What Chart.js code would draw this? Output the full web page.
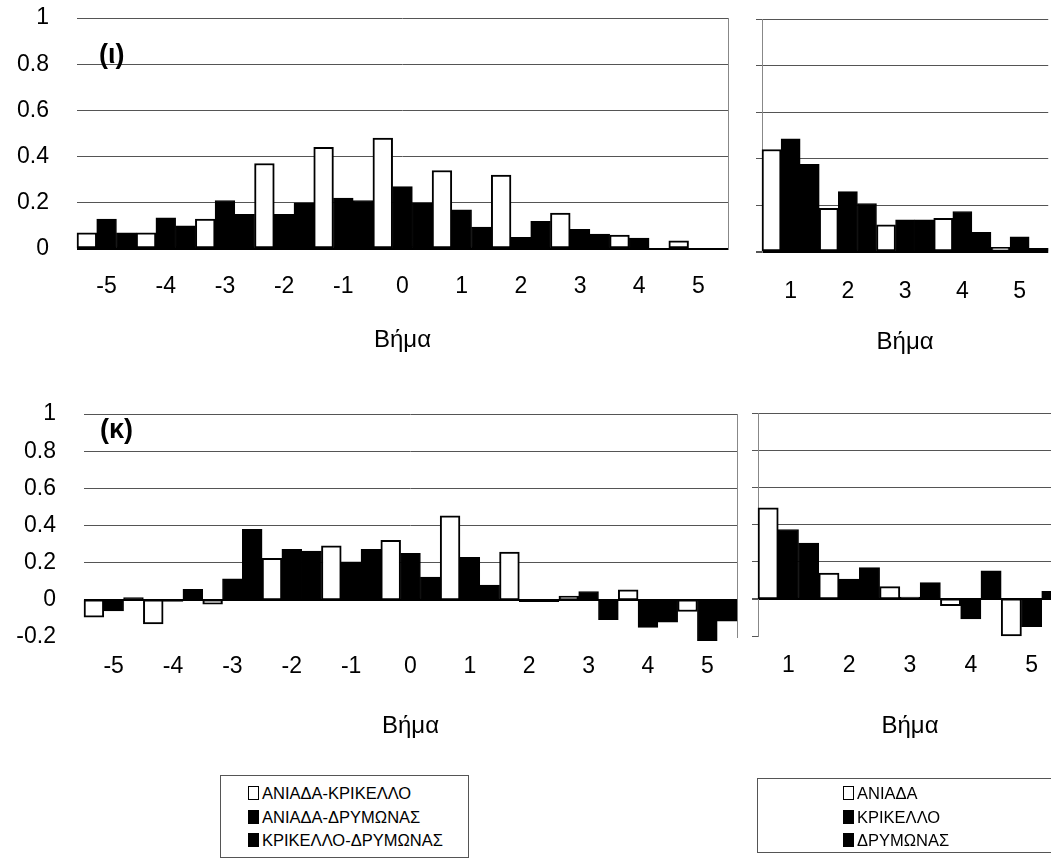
<!DOCTYPE html>
<html>
<head>
<meta charset="utf-8">
<script src="https://cdn.jsdelivr.net/npm/chart.js@4/dist/chart.umd.min.js"></script>
<style>
  html, body { margin: 0; padding: 0; background: #fff; overflow: hidden; }
  body { width: 1051px; height: 863px; position: relative; font-family: Arial, "Liberation Sans", sans-serif; }
  canvas { position: absolute; }
  .tag { position: absolute; font-weight: bold; font-size: 27px; color: #000; }
  .legend { position: absolute; border: 1px solid #555; box-sizing: border-box; font-size: 16.5px; color: #000; }
  .legend div { position: absolute; white-space: nowrap; line-height: 18px; }
  .legend span { display: inline-block; width: 9px; height: 12px; border: 1px solid #000; margin-right: 3px; vertical-align: -1px; }
</style>
</head>
<body>
<canvas id="c1" width="745" height="360" style="left:0;top:0"></canvas>
<canvas id="c2" width="312" height="360" style="left:740px;top:0"></canvas>
<canvas id="c3" width="745" height="370" style="left:0;top:380px"></canvas>
<canvas id="c4" width="322" height="370" style="left:740px;top:380px"></canvas>

<div class="tag" style="left:99px;top:39px">(ι)</div>
<div class="tag" style="left:100px;top:414px">(κ)</div>

<div class="legend" style="left:220px;top:775px;width:249px;height:83px">
  <div style="left:27px;top:8px"><span style="background:#fff"></span>ΑΝΙΑΔΑ-ΚΡΙΚΕΛΛΟ</div>
  <div style="left:27px;top:32px"><span style="background:#000"></span>ΑΝΙΑΔΑ-ΔΡΥΜΩΝΑΣ</div>
  <div style="left:27px;top:55px"><span style="background:#000"></span>ΚΡΙΚΕΛΛΟ-ΔΡΥΜΩΝΑΣ</div>
</div>
<div class="legend" style="left:757px;top:778px;width:300px;height:75px">
  <div style="left:85px;top:5px"><span style="background:#fff"></span>ΑΝΙΑΔΑ</div>
  <div style="left:85px;top:29px"><span style="background:#000"></span>ΚΡΙΚΕΛΛΟ</div>
  <div style="left:85px;top:52px"><span style="background:#000"></span>ΔΡΥΜΩΝΑΣ</div>
</div>

<script>
// lags
const crossLags = ['-5', '-4', '-3', '-2', '-1', '0', '1', '2', '3', '4', '5'];
const autoLags = ['1', '2', '3', '4', '5'];

// (ι) cross-correlation
const iotaAniadaKrikello = [0.07, 0.07, 0.13, 0.37, 0.44, 0.48, 0.34, 0.32, 0.155, 0.06, 0.035];
const iotaAniadaDrymonas = [0.13, 0.135, 0.21, 0.15, 0.22, 0.27, 0.17, 0.05, 0.085, 0.047, 0];
const iotaKrikelloDrymonas = [0.07, 0.10, 0.15, 0.20, 0.21, 0.20, 0.095, 0.12, 0.065, 0, 0];

// (ι) autocorrelation
const iotaAniada = [0.44, 0.187, 0.117, 0.145, 0.02];
const iotaKrikello = [0.486, 0.259, 0.138, 0.174, 0.065];
const iotaDrymonas = [0.376, 0.208, 0.138, 0.084, 0.016];

// (κ) cross-correlation
const kappaAniadaKrikello = [-0.093, -0.13, -0.023, 0.224, 0.291, 0.32, 0.452, 0.257, 0.02, 0.054, -0.063];
const kappaAniadaDrymonas = [-0.059, -0.009, 0.113, 0.272, 0.204, 0.25, 0.229, -0.01, 0.045, -0.148, -0.22];
const kappaKrikelloDrymonas = [0.012, 0.057, 0.379, 0.263, 0.272, 0.122, 0.079, -0.01, -0.107, -0.12, -0.115];

// (κ) autocorrelation
const kappaAniada = [0.49, 0.139, 0.066, -0.037, -0.20];
const kappaKrikello = [0.373, 0.106, 0.01, -0.108, -0.15];
const kappaDrymonas = [0.30, 0.168, 0.087, 0.151, 0.04];

Chart.defaults.font.family = 'Arial, "Liberation Sans", sans-serif';
Chart.defaults.font.size = 23;
Chart.defaults.color = '#000';

// dotted frame edge of a panel (right side for left panels, left side for right panels)
function edgeAxis(side, min) {
    return {
        position: side,
        weight: -1,
        min: min,
        max: 1,
        ticks: { display: false },
        grid: { display: false, drawTicks: false },
        border: { display: true, dash: [2, 4], color: '#888' },
        afterFit: (s) => { s.width = 0; },
    };
}

function drawPanel(id, labels, series, names, box) {
    const datasets = series.map((values, i) => ({
        label: names[i],
        data: values,
        backgroundColor: i === 0 ? '#fff' : '#000',
        borderColor: '#000',
        borderWidth: i === 0 ? 2 : 1,
        borderSkipped: false,
        categoryPercentage: 1,
        barPercentage: 1,
        clip: false,
    }));

    const scales = {
        x: {
            grid: { display: false, drawTicks: false },
            border: { display: false },
            ticks: { padding: box.labelPad, maxRotation: 0, autoSkip: false },
            title: { display: true, text: 'Βήμα', font: { size: 24 }, padding: { top: 0, bottom: box.titlePad } },
            afterFit: (s) => { s.height = box.xHeight; },
        },
        y: {
            min: box.min,
            max: 1,
            ticks: {
                stepSize: 0.2,
                display: box.showLabels,
                padding: 0,
                callback: (v) => String(Math.round(v * 10) / 10),
            },
            grid: {
                drawTicks: true,
                tickLength: box.tickLen,
                tickColor: box.showLabels ? 'rgba(0,0,0,0)' : '#555',
                color: (c) => {
                    const v = Math.round(c.tick.value * 10);
                    if (v === 0) return '#000';
                    if (v < 0) return 'rgba(0,0,0,0)';
                    return '#555';
                },
                lineWidth: (c) => (Math.round(c.tick.value * 10) === 0 ? 2 : 1),
            },
            border: { display: false },
            afterFit: (s) => { s.width = box.yWidth; },
        },
        edge: edgeAxis(box.showLabels ? 'right' : 'left', box.min),
    };

    new Chart(document.getElementById(id), {
        type: 'bar',
        data: { labels, datasets },
        options: {
            responsive: false,
            animation: false,
            layout: { padding: { top: box.top, right: box.right, left: 0, bottom: 0 } },
            plugins: { legend: { display: false }, tooltip: { enabled: false } },
            scales,
        },
    });
}

const crossNames = ['ΑΝΙΑΔΑ-ΚΡΙΚΕΛΛΟ', 'ΑΝΙΑΔΑ-ΔΡΥΜΩΝΑΣ', 'ΚΡΙΚΕΛΛΟ-ΔΡΥΜΩΝΑΣ'];
const siteNames = ['ΑΝΙΑΔΑ', 'ΚΡΙΚΕΛΛΟ', 'ΔΡΥΜΩΝΑΣ'];

drawPanel('c1', crossLags, [iotaAniadaKrikello, iotaAniadaDrymonas, iotaKrikelloDrymonas], crossNames,
    { min: 0, top: 18, right: 17, yWidth: 77, xHeight: 111, labelPad: 24, titlePad: 5, showLabels: true, tickLen: 28 });
drawPanel('c2', autoLags, [iotaAniada, iotaKrikello, iotaDrymonas], siteNames,
    { min: 0, top: 19, right: 0, yWidth: 22, xHeight: 108, labelPad: 26, titlePad: 3, showLabels: false, tickLen: 6 });
drawPanel('c3', crossLags, [kappaAniadaKrikello, kappaAniadaDrymonas, kappaKrikelloDrymonas], crossNames,
    { min: -0.2, top: 34, right: 8, yWidth: 84, xHeight: 113, labelPad: 16, titlePad: 9, showLabels: true, tickLen: 28 });
drawPanel('c4', autoLags, [kappaAniada, kappaKrikello, kappaDrymonas], siteNames,
    { min: -0.2, top: 33, right: 0, yWidth: 18, xHeight: 114, labelPad: 16, titlePad: 9, showLabels: false, tickLen: 6 });
</script>
</body>
</html>
